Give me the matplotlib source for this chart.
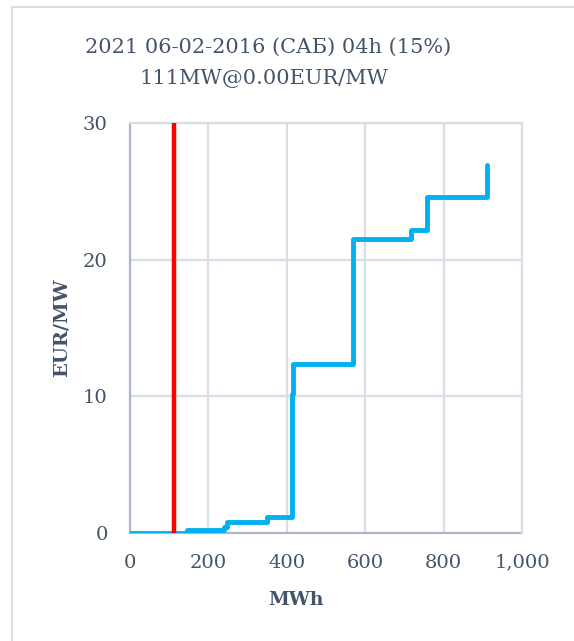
import matplotlib
matplotlib.use("Agg")
import matplotlib.pyplot as plt
from matplotlib.patches import Rectangle

# Cumulative offer curve: volume (MWh) vs price (EUR/MW), step-wise
volume = [0, 145, 145, 240, 240, 248, 248, 349, 349, 412, 412, 415, 415,
          568, 568, 716, 716, 758, 758, 910, 910]
price = [0.0, 0.0, 0.22, 0.22, 0.46, 0.46, 0.82, 0.82, 1.15, 1.15, 10.2, 10.2, 12.35,
         12.35, 21.5, 21.5, 22.15, 22.15, 24.55, 24.55, 26.9]

# Cleared quantity marker
cleared_volume = 111
price_range = [0, 30]

title_lines = ["2021 06-02-2016 (САБ) 04h (15%)", "111MW@0.00EUR/MW"]
x_ticks = [0, 200, 400, 600, 800, 1000]
x_tick_labels = ["0", "200", "400", "600", "800", "1,000"]
y_ticks = [0, 10, 20, 30]
x_label = "MWh"
y_label = "EUR/MW"

text_color = "#44546A"
grid_color = "#D9DEE6"
axis_color = "#ADB6C6"
font = "DejaVu Serif"

W, H = 574, 641
fig = plt.figure(figsize=(W / 100, H / 100), dpi=100)

# Chart-area border (runs off the right and bottom edges)
fig.patches.append(Rectangle((12 / W, -0.5), 2.0, 1.5 - 7 / H, transform=fig.transFigure,
                             fill=False, edgecolor="#D9DEE6", linewidth=1.5))

ax = fig.add_axes([130 / W, 1 - 533 / H, (522 - 130) / W, (533 - 123) / H])

ax.plot(volume, price, color="#00B0F0", linewidth=3.5, solid_joinstyle="round",
        solid_capstyle="round", zorder=3)
ax.plot([cleared_volume, cleared_volume], price_range, color="#FF0000",
        linewidth=3.2, zorder=4)

ax.set_xlim(0, 1000)
ax.set_ylim(0, 30)
ax.set_xticks(x_ticks)
ax.set_xticklabels(x_tick_labels)
ax.set_yticks(y_ticks)
ax.grid(True, color=grid_color, linewidth=1.6, zorder=0)
ax.set_axisbelow(True)

for side in ("top", "right"):
    ax.spines[side].set_color(grid_color)
    ax.spines[side].set_linewidth(1.6)
for side in ("left", "bottom"):
    ax.spines[side].set_color(axis_color)
    ax.spines[side].set_linewidth(1.6)
    ax.spines[side].set_zorder(2)

ax.tick_params(length=0, colors=text_color, labelsize=14)
ax.tick_params(axis="x", pad=15)
ax.tick_params(axis="y", pad=16)
for lbl in ax.get_xticklabels() + ax.get_yticklabels():
    lbl.set_fontfamily(font)

ax.set_xlabel(x_label, fontsize=13.5, fontweight="bold", color=text_color, fontfamily=font)
ax.set_ylabel(y_label, fontsize=14, fontweight="bold", color=text_color, fontfamily=font)
ax.xaxis.set_label_coords((296 - 130) / 392, -(600 - 533) / 410)
ax.yaxis.set_label_coords(-(130 - 62) / 392, 0.5)
ax.xaxis.label.set_va("center")
ax.yaxis.label.set_va("center")

fig.text(268 / W, 1 - 47 / H, title_lines[0], ha="center", va="center",
         fontsize=15, color=text_color, fontfamily=font)
fig.text(264 / W, 1 - 79 / H, title_lines[1], ha="center", va="center",
         fontsize=15, color=text_color, fontfamily=font)

fig.savefig("out.png", dpi=100, facecolor="white")
